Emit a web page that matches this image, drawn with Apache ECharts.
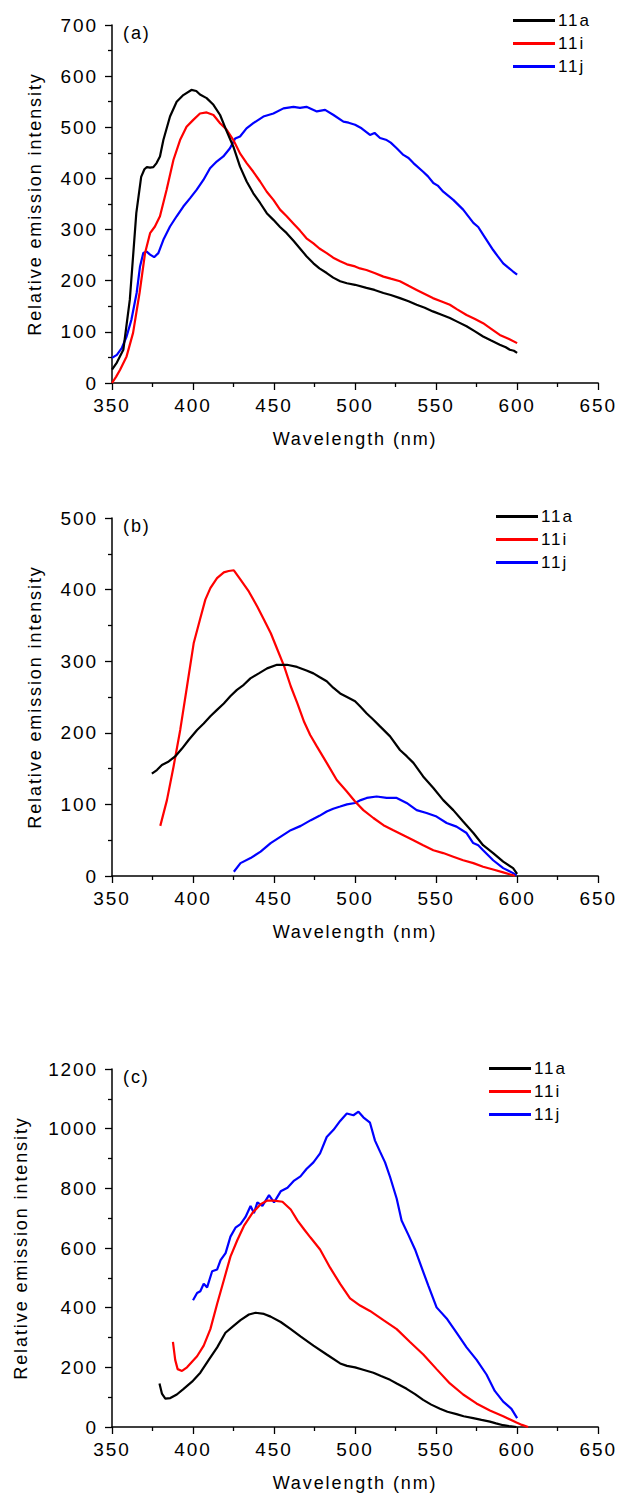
<!DOCTYPE html>
<html>
<head>
<meta charset="utf-8">
<script src="https://cdn.jsdelivr.net/npm/echarts@6/dist/echarts.min.js"></script>
<style>
html,body{margin:0;padding:0;background:#fff;}
#chart{width:617px;height:1498px;}
#chart text{letter-spacing:1.9px !important;}
</style>
</head>
<body>
<div id="chart"></div>
<script>
// ---------- DATA (wavelength nm, relative emission intensity) ----------
var seriesNames = ['11a', '11i', '11j'];
var panelLabels = ['(a)', '(b)', '(c)'];
var xTicks = {min: 350, max: 650, step: 50};
var yTicksA = {min: 0, max: 700, step: 100};
var yTicksB = {min: 0, max: 500, step: 100};
var yTicksC = {min: 0, max: 1200, step: 200};

var a_11a = [[350,26],[353,40],[357,65],[361,163],[365,332],[368,403],[370,418],[371.5,422],[373.5,421],[375.5,422],[377.5,430],[379.6,443],[381.7,475],[385.8,521],[389.9,550],[394,563],[399,573],[402,571],[404.3,564],[408.4,557],[412.6,544],[416.7,524],[420.8,492],[424.9,462],[429,423],[433.1,394],[437.2,371],[441.4,352],[445.5,332],[449.6,319],[453.7,305],[457.8,293],[462,278],[466,263],[470,248],[474.3,234],[478,224],[482.5,215],[486.5,206],[490.8,199],[495,195],[500,192],[507,186],[512,182],[517.5,176],[522,172],[527.7,166],[533,160],[538,153],[543,147],[548,140],[553,134],[558.5,127],[563,120],[568.8,111],[574,101],[579,91],[584,83],[589.3,75],[593,70],[595.5,65],[598,63],[600,59]];
var a_11i = [[350,0],[352.5,12],[355,26],[359,52],[363,98],[367,176],[370.4,254],[373.5,293],[376.5,306],[379.6,326],[383.7,378],[387.9,436],[392,475],[396,501],[400,514],[404.3,527],[408.4,529],[412.6,524],[416.7,508],[420.8,495],[424.9,475],[429,449],[433.1,430],[437.2,413],[441.4,394],[445.5,374],[449.6,358],[453.7,339],[457.8,326],[461.9,312],[466,298],[470,283],[474.3,273],[478,263],[482.5,254],[486.5,245],[490.8,238],[495,232],[500,228],[503,224],[507,221],[512,215],[517.5,208],[522,204],[527.7,199],[533,190],[538,182],[543,174],[548,166],[553,160],[558.5,153],[563,144],[568.8,133],[574,125],[579,117],[584,106],[589.3,94],[595,86],[600,78]];
var a_11j = [[350,49],[353,55],[356,68],[359,91],[362,124],[365.2,176],[367.3,228],[369.3,254],[371.4,257],[373.5,251],[376,246],[378.6,254],[381.7,280],[385.8,306],[389.9,326],[394,345],[398.1,361],[402.3,378],[406.4,397],[410.5,420],[414.6,433],[418.7,443],[422.8,459],[426,478],[429,482],[433,498],[437.2,508],[443.4,521],[449.6,527],[455.8,537],[462,540],[466,538],[470,540],[476.4,531],[481.5,534],[486.7,524],[492.8,511],[496,509],[500,505],[504,498],[509.2,485],[512,489],[515.4,479],[519.5,475],[522,470],[525.7,459],[529.8,446],[533,440],[536,430],[542,413],[545,404],[548.3,391],[551,386],[554.4,374],[560.6,358],[566.7,339],[573,313],[576,305],[579,290],[585.2,260],[588,248],[591.4,234],[594,227],[597.5,218],[600,212]];

var b_11a = [[374.6,143],[377.7,148],[380.8,155],[385,160],[389,167],[393.2,178],[397.3,190],[402.5,204],[406.6,213],[410.7,223],[414.8,232],[419,241],[423,251],[427.1,260],[431.3,267],[435.4,276],[440.6,283],[445.7,290],[451.8,295],[458,295],[464.2,292],[470,287],[474.3,283],[478,278],[482.5,272],[486.5,263],[490.8,255],[495,250],[500,244],[503.5,236],[507.2,227],[511,219],[515.4,209],[521.6,195],[527.7,176],[532,167],[536,158],[542,139],[548.3,123],[554.4,106],[560.6,92],[566.7,76],[573,60],[579,43],[585.2,32],[591.4,20],[597.5,11],[600,3]];
var b_11i = [[379.8,70],[383.9,106],[388,153],[392.1,204],[396.3,265],[400.4,325],[404.5,360],[407.6,386],[410.7,402],[414.8,416],[419,424],[422,426],[425.2,427],[429.3,414],[434.5,397],[439.7,376],[443.8,358],[448,339],[452.1,316],[456.2,293],[460.3,265],[464.4,241],[468.6,215],[472.3,197],[476.4,181],[482.5,158],[488.7,134],[494.9,118],[500,104],[505.1,92],[511.3,81],[517.5,71],[523.6,64],[529.8,57],[536,50],[542,43],[548.3,36],[554.4,32],[560.6,27],[566.7,22],[573,18],[579,13],[585.2,9],[591.4,5],[597.5,1],[598.5,0]];
var b_11j = [[425.2,6],[429.3,18],[435.5,25],[441.7,34],[447.9,46],[454.1,55],[460.3,64],[466.5,70],[472.7,78],[478,84],[482.5,90],[486.5,94],[490.8,97],[495,100],[500,102],[503.5,106],[507.2,109],[513.3,111],[519.5,109],[525.7,109],[531.8,102],[538,92],[544.1,88],[550.3,83],[556.5,74],[562.6,69],[568.8,60],[572.9,46],[576,43],[579,36],[585.2,22],[591.4,11],[597.5,4],[599.6,1]];

var c_11a = [[379.3,146],[380.8,112],[382.9,95],[386,97],[390,109],[394.2,128],[399.4,152],[404.5,182],[409.7,225],[414.9,267],[420,316],[425.2,340],[429.3,358],[434.5,377],[438.6,383],[443.8,379],[447.9,370],[454.1,352],[460.3,328],[466.3,304],[474.3,273],[482.5,243],[490.8,213],[495,205],[500,200],[505,192],[511.3,182],[516,171],[521.6,158],[526,145],[531.8,128],[537,110],[542,91],[547,75],[552.4,61],[557,51],[562.6,43],[567,36],[572.9,30],[578,24],[583.2,18],[587,12],[591.4,6],[595,3],[599.6,0]];
var c_11i = [[387.6,285],[389,225],[390.5,194],[393.2,188],[396.3,200],[399.4,219],[402.5,237],[406.6,273],[410.7,328],[414.9,413],[419,492],[423.1,571],[427.3,626],[431.4,674],[436.6,717],[441.7,747],[445.9,759],[450,759],[455.2,755],[460.3,729],[464.5,692],[468.6,662],[472.5,635],[478.4,595],[484.6,534],[490.8,480],[496.9,431],[503.1,407],[509.2,389],[517.5,358],[525.7,328],[533.9,285],[542.1,243],[550.3,194],[558.5,146],[566.7,109],[574.9,79],[583.2,55],[591.4,36],[599.6,15],[603,7],[606.8,0]];
var c_11j = [[400,425],[402.5,449],[404.5,455],[406.6,480],[408.7,468],[411.8,522],[414.9,528],[417,559],[420.1,583],[423.1,638],[426.2,668],[429.3,680],[432.4,704],[435.5,741],[437.6,717],[439.7,753],[442.8,741],[446.9,777],[450,753],[454.1,790],[458.3,802],[462.4,826],[466.3,840],[470,865],[474.3,887],[478.4,917],[482.5,972],[486.7,996],[490.8,1026],[494.9,1051],[499,1045],[502.1,1057],[505.1,1038],[509.2,1020],[512.3,960],[515.4,923],[518.5,887],[521.6,838],[525.7,765],[528.7,692],[532.9,644],[537,595],[541.1,534],[545.2,474],[550.3,401],[556.5,364],[562.6,316],[568.8,267],[575,225],[581.1,176],[586.2,121],[591.4,85],[596.5,61],[600,30]];

var panelData = [[a_11a, a_11i, a_11j], [b_11a, b_11i, b_11j], [c_11a, c_11i, c_11j]];
var panelY = [yTicksA, yTicksB, yTicksC];

// ---------- LAYOUT / STYLE ----------
var colors = ['#000000', '#ff0000', '#0000ff'];
var FONT = '"Liberation Sans", Arial, sans-serif';
var gridTops = [25, 518, 1069];
var gridH = 358;
var yNameGaps = [68, 68, 82];
var legendPos = [{left: 513, top: 12}, {left: 496, top: 508}, {left: 489, top: 1060}];

var grids = [], xAxes = [], yAxes = [], series = [], legends = [], graphics = [];
for (var p = 0; p < 3; p++) {
  grids.push({left: 112, right: 18, top: gridTops[p], height: gridH});
  xAxes.push({
    type: 'value', gridIndex: p, min: xTicks.min, max: xTicks.max, interval: xTicks.step,
    name: 'Wavelength (nm)', nameLocation: 'middle', nameGap: 47,
    nameTextStyle: {fontFamily: FONT, fontSize: 18, color: '#000'},
    axisLine: {show: true, onZero: false, lineStyle: {color: '#000', width: 1.5}},
    axisTick: {show: true, inside: false, length: 7, lineStyle: {color: '#000', width: 1.3}},
    minorTick: {show: true, splitNumber: 2, length: 4, lineStyle: {color: '#000', width: 1.3}},
    axisLabel: {fontFamily: FONT, fontSize: 19, color: '#000', margin: 13,
      formatter: function (v) { return String(v); }},
    splitLine: {show: false}
  });
  yAxes.push({
    type: 'value', gridIndex: p, min: panelY[p].min, max: panelY[p].max, interval: panelY[p].step,
    name: 'Relative emission intensity', nameLocation: 'middle', nameGap: yNameGaps[p],
    nameTextStyle: {fontFamily: FONT, fontSize: 18, color: '#000'},
    axisLine: {show: true, onZero: false, lineStyle: {color: '#000', width: 1.5}},
    axisTick: {show: true, inside: false, length: 7, lineStyle: {color: '#000', width: 1.3}},
    minorTick: {show: true, splitNumber: 2, length: 4, lineStyle: {color: '#000', width: 1.3}},
    axisLabel: {fontFamily: FONT, fontSize: 19, color: '#000', margin: 14,
      formatter: function (v) { return String(v); }},
    splitLine: {show: false}
  });
  for (var s = 0; s < 3; s++) {
    series.push({
      name: seriesNames[s], type: 'line', xAxisIndex: p, yAxisIndex: p,
      data: panelData[p][s], showSymbol: false, symbol: 'none', smooth: false,
      lineStyle: {color: colors[s], width: 2.2}, itemStyle: {color: colors[s]},
      animation: false, z: 5 - s
    });
  }
  legends.push({
    data: seriesNames, orient: 'vertical', left: legendPos[p].left, top: legendPos[p].top,
    padding: 0, icon: 'rect', itemWidth: 42, itemHeight: 3, itemGap: 6,
    textStyle: {fontFamily: FONT, fontSize: 17, color: '#000', padding: [0, 0, 0, -2]},
    selectedMode: false
  });
  graphics.push({
    type: 'text', left: 123, top: gridTops[p] - 1,
    style: {text: panelLabels[p], font: '18px ' + FONT, fill: '#000'}
  });
}

var chart = echarts.init(document.getElementById('chart'), null, {renderer: 'svg'});
chart.setOption({
  animation: false,
  backgroundColor: '#fff',
  grid: grids, xAxis: xAxes, yAxis: yAxes, series: series, legend: legends, graphic: graphics
});
</script>
</body>
</html>
